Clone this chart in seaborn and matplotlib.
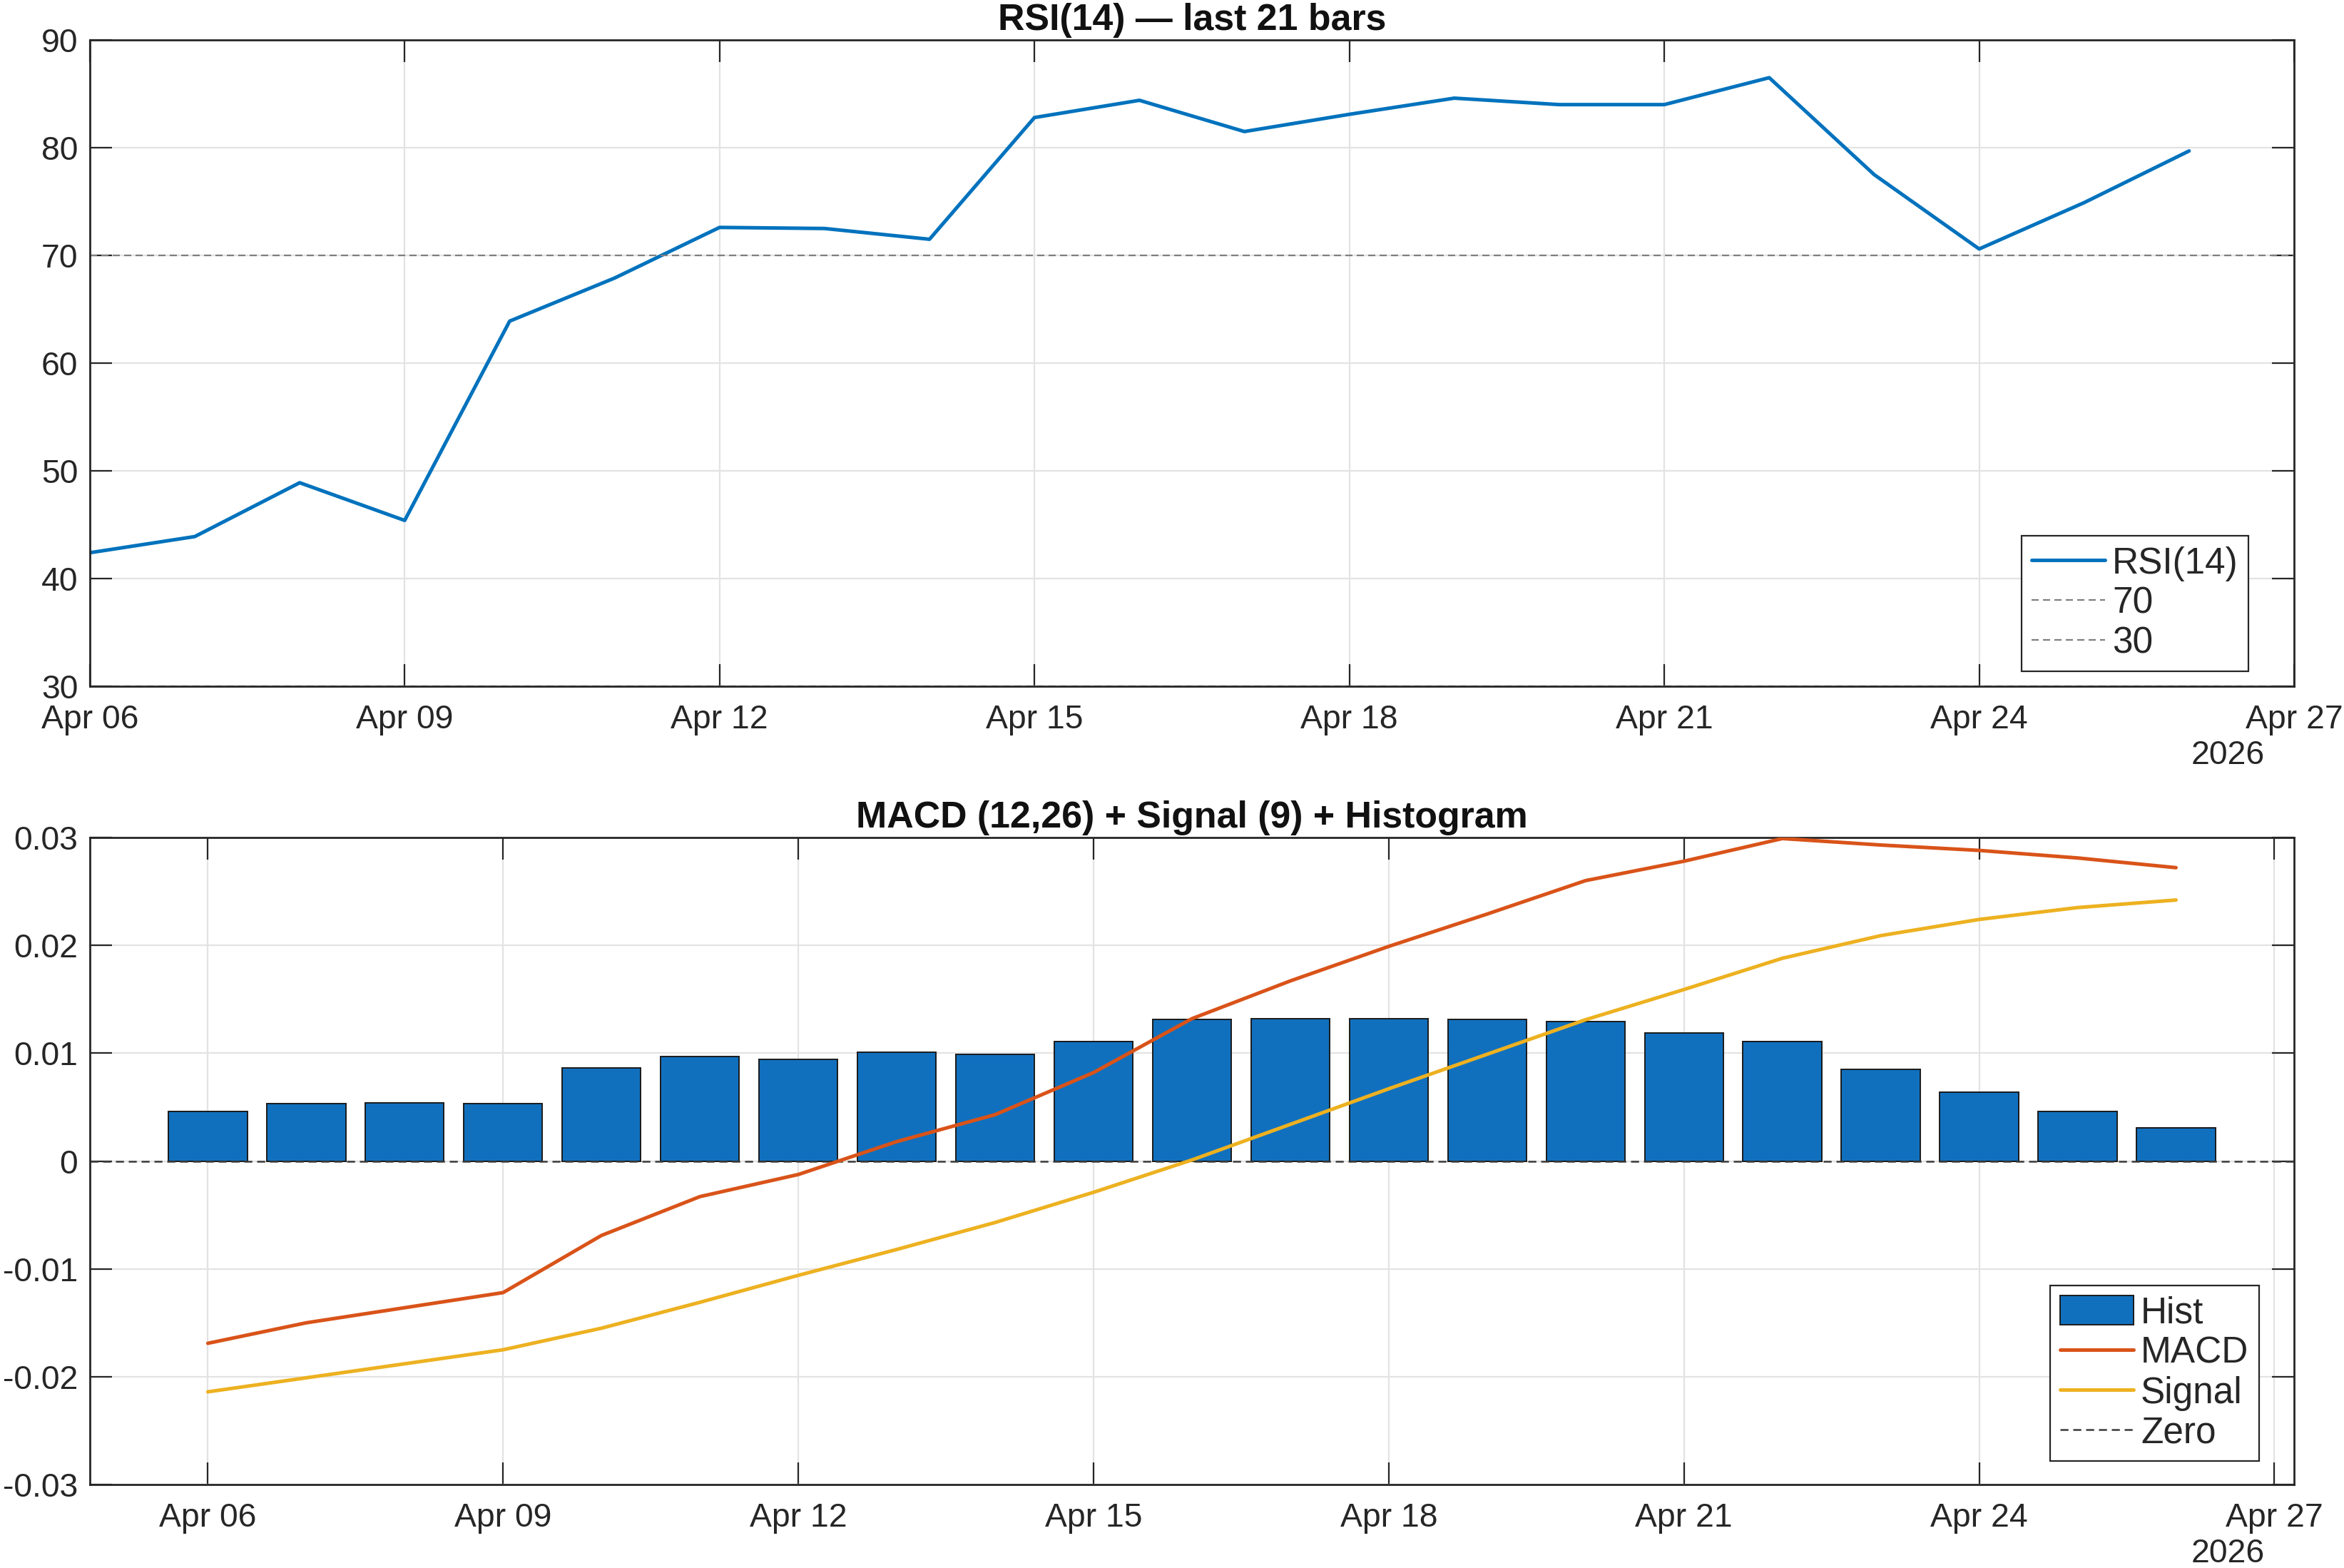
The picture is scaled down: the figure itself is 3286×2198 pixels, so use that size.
import matplotlib
matplotlib.use('Agg')
import matplotlib.pyplot as plt
import matplotlib.dates as mdates
from matplotlib.ticker import FuncFormatter
import seaborn as sns
import pandas as pd

# data (21 daily bars, Apr 06 - Apr 26 2026)
start_day = '2026-04-06'
n_bars = 21
rsi = [42.4, 43.9, 48.9, 45.4, 63.9, 67.9, 72.6, 72.5, 71.5, 82.8, 84.4,
       81.5, 83.1, 84.6, 84.0, 84.0, 86.5, 77.5, 70.6, 74.9, 79.7]
macd = [-0.0169, -0.0150, -0.0136, -0.0122, -0.0069, -0.0033, -0.00125,
        0.0018, 0.0043, 0.0082, 0.0132, 0.0167, 0.0199, 0.0229, 0.0260,
        0.0278, 0.0299, 0.0293, 0.0288, 0.0281, 0.0272]
signal = [-0.0214, -0.0201, -0.0188, -0.0175, -0.0155, -0.0131, -0.0106,
          -0.0082, -0.0057, -0.0029, 0.0001, 0.0034, 0.0067, 0.0099, 0.0131,
          0.0159, 0.0188, 0.0209, 0.0224, 0.0235, 0.0242]
hist = [0.0046, 0.0053, 0.0054, 0.0053, 0.0086, 0.0097, 0.0094, 0.0101,
        0.0099, 0.0111, 0.0131, 0.0132, 0.0132, 0.0131, 0.0129, 0.0119,
        0.0111, 0.0085, 0.0064, 0.0046, 0.0031]
rsi_levels = [70, 30]

dates = pd.date_range(start_day, periods=n_bars, freq='D')
tick_days = pd.date_range('2026-04-06', '2026-04-27', freq='3D')

sns.set_style('ticks')
plt.rcParams['font.family'] = ['Liberation Sans', 'DejaVu Sans']
plt.rcParams['axes.unicode_minus'] = False

INK = '#262626'
BLUE = '#0072BD'
BAR = '#1170BE'
ORANGE = '#D95319'
YELLOW = '#EDB120'
GREY = '#7F7F7F'

fig = plt.figure(figsize=(16.43, 10.99), dpi=200)
ax1 = fig.add_axes([0.0383, 0.5623, 0.9404, 0.4122])
ax2 = fig.add_axes([0.0383, 0.0532, 0.9404, 0.4127])


def style_axes(ax):
    ax.set_axisbelow(True)
    ax.grid(True, color='#E3E3E3', linewidth=0.8)
    for s in ax.spines.values():
        s.set_color(INK)
        s.set_linewidth(1.0)
    ax.tick_params(direction='in', length=11, width=0.8, top=True, right=True,
                   labelsize=16.7, colors=INK)
    ax.tick_params(axis='x', pad=9)
    ax.tick_params(axis='y', pad=6)
    ax.set_xticks(tick_days)
    ax.xaxis.set_major_formatter(mdates.DateFormatter('%b %d'))
    ax.set_xlabel('')
    ax.set_ylabel('')
    ax.annotate('2026', xy=(1, 0), xycoords='axes fraction',
                xytext=(-33.5, -34.8), textcoords='offset points',
                ha='center', va='center', fontsize=16.7, color=INK)


def add_legend(ax, handles, labels, anchor):
    leg = ax.legend(handles, labels, loc='lower right', bbox_to_anchor=anchor,
                    borderaxespad=0, fontsize=18.5, fancybox=False, framealpha=1,
                    edgecolor=INK, handlelength=2.0, handletextpad=0.2,
                    labelspacing=0.13, borderpad=0.28, handleheight=0.85)
    leg.get_frame().set_linewidth(0.8)
    for t in leg.get_texts():
        t.set_color(INK)


# --- RSI panel ---
l_rsi = sns.lineplot(x=dates, y=rsi, ax=ax1, color=BLUE, linewidth=1.8).lines[-1]
lvl_lines = [ax1.axhline(v, ls='--', dashes=(4.5, 2.7), color=GREY, lw=0.8)
             for v in rsi_levels]
ax1.set_xlim(pd.Timestamp('2026-04-06'), pd.Timestamp('2026-04-27'))
ax1.set_ylim(30, 90)
ax1.set_yticks(range(30, 91, 10))
style_axes(ax1)
ax1.set_title('RSI(14) — last 21 bars', fontsize=18.7, fontweight='bold',
              color='#111111', pad=5)
add_legend(ax1, [l_rsi] + lvl_lines, ['RSI(14)'] + [str(v) for v in rsi_levels],
           (0.9793, 0.0232))

# --- MACD panel ---
bars = ax2.bar(dates, hist, width=0.8, color=BAR, edgecolor='#1A1A1A',
               linewidth=0.7, zorder=2)
sns.lineplot(x=dates, y=macd, ax=ax2, color=ORANGE, linewidth=1.8, zorder=3)
sns.lineplot(x=dates, y=signal, ax=ax2, color=YELLOW, linewidth=1.8, zorder=3)
l_macd, l_sig = ax2.lines[-2], ax2.lines[-1]
l_zero = ax2.axhline(0, ls='--', dashes=(4.5, 2.7), color='#3A3A3A', lw=0.9,
                     zorder=2.5)
ax2.set_xlim(pd.Timestamp('2026-04-06') - pd.Timedelta(days=1.2),
             pd.Timestamp('2026-04-27') + pd.Timedelta(days=0.2))
ax2.set_ylim(-0.03, 0.03)
ax2.set_yticks([-0.03, -0.02, -0.01, 0, 0.01, 0.02, 0.03])
ax2.yaxis.set_major_formatter(
    FuncFormatter(lambda v, p: '0' if abs(v) < 1e-9 else f'{v:.2f}'))
style_axes(ax2)
ax2.set_title('MACD (12,26) + Signal (9) + Histogram', fontsize=18.7,
              fontweight='bold', color='#111111', pad=5)
add_legend(ax2, [bars, l_macd, l_sig, l_zero], ['Hist', 'MACD', 'Signal', 'Zero'],
           (0.9841, 0.0364))

plt.savefig('out.png', dpi=200)
